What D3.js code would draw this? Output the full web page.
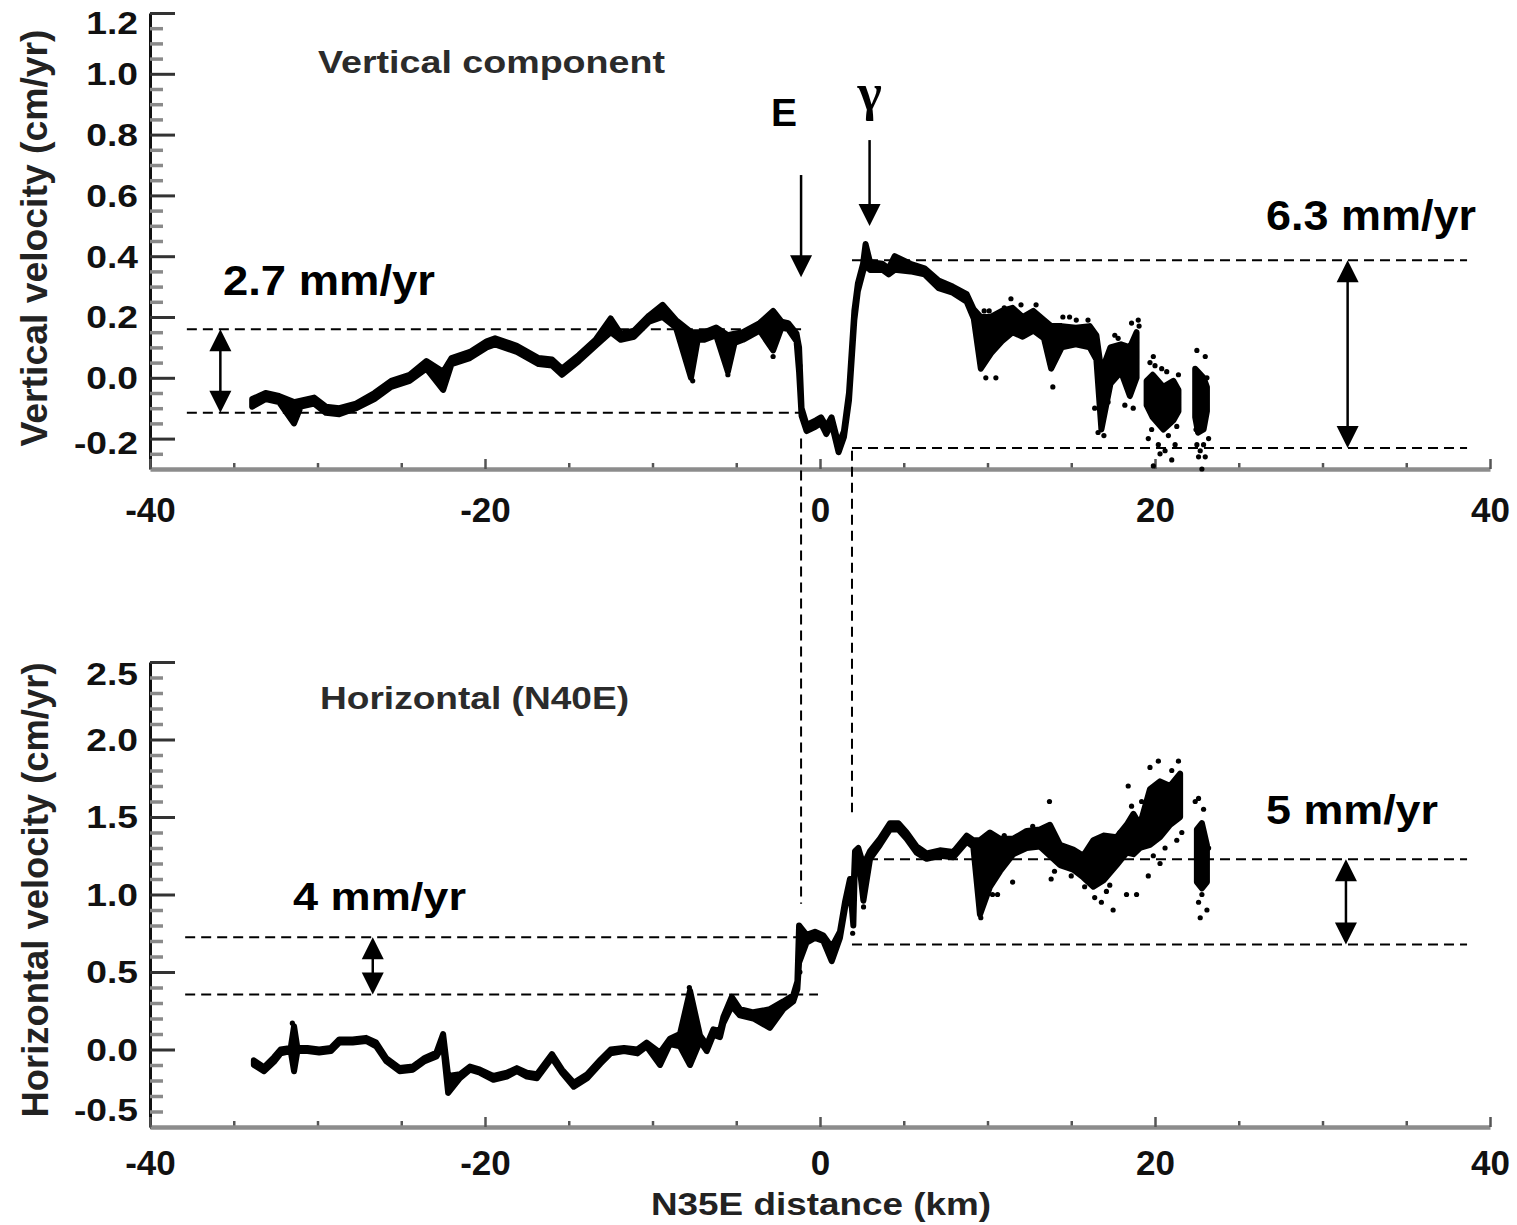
<!DOCTYPE html>
<html>
<head>
<meta charset="utf-8">
<script src="https://d3js.org/d3.v7.min.js"></script>
<style>
  body { margin: 0; background: #fff; }
  svg { display: block; font-family: "Liberation Sans", Arial, Helvetica, sans-serif; font-weight: bold; }
</style>
</head>
<body>
<div id="chart"></div>
<script>
// ---- values ----
const xTicks = [-40, -20, 0, 20, 40];
const vTicks = [-0.2, 0.0, 0.2, 0.4, 0.6, 0.8, 1.0, 1.2];
const hTicks = [-0.5, 0.0, 0.5, 1.0, 1.5, 2.0, 2.5];

// vertical component: distance (km), lower / upper edge of the plotted band (cm/yr); null = gap
const vKm = [-33.9,-33.1,-32.3,-31.4,-31.0,-30.2,-29.5,-28.7,-27.7,-26.6,-25.6,-24.5,-23.5,-22.5,-22.0,-20.9,-19.9,-19.4,-18.1,-16.8,-16.0,-15.4,-14.4,-13.4,-12.5,-11.9,-11.1,-10.2,-9.4,-8.6,-7.7,-7.3,-6.9,-6.2,-5.5,-5.1,-4.6,-3.6,-2.8,-2.3,-1.9,-1.4,-1.25,-1.1,-0.8,-0.25,0.06,0.38,0.69,1.11,1.43,1.73,2.05,2.26,2.57,2.72,2.99,3.73,4.1,4.46,5.4,6.24,7.08,7.92,8.76,9.18,9.6,10.2,10.86,11.5,12.1,12.74,13.37,13.8,14.43,15.27,16.1,16.5,16.8,17.34,17.97,18.5,18.9,19.2,19.5,19.86,20.5,21.1,21.4,21.8,22.4,22.57,22.9,23.1];
const vLo = [-0.095,-0.07,-0.08,-0.15,-0.095,-0.085,-0.115,-0.12,-0.1,-0.07,-0.03,-0.01,0.03,-0.04,0.045,0.065,0.1,0.11,0.085,0.045,0.04,0.01,0.055,0.105,0.15,0.125,0.135,0.185,0.2,0.165,0.0,0.125,0.125,0.14,0.02,0.115,0.125,0.155,0.09,0.165,0.16,0.12,0.02,-0.125,-0.175,-0.16,-0.15,-0.185,-0.15,-0.245,-0.195,-0.075,0.19,0.285,0.35,0.37,0.355,0.355,0.34,0.355,0.35,0.34,0.295,0.28,0.25,0.195,0.03,0.08,0.12,0.15,0.135,0.155,0.13,0.03,0.1,0.11,0.1,0.06,-0.17,-0.02,0.02,-0.06,0.0,null,-0.09,-0.13,-0.17,-0.14,-0.11,null,-0.13,-0.18,-0.17,-0.11];
const vHi = [-0.07,-0.05,-0.06,-0.08,-0.075,-0.065,-0.095,-0.1,-0.085,-0.05,-0.01,0.01,0.055,0.02,0.065,0.085,0.12,0.13,0.105,0.065,0.06,0.03,0.075,0.125,0.195,0.145,0.155,0.205,0.24,0.19,0.15,0.15,0.15,0.165,0.14,0.145,0.15,0.18,0.22,0.185,0.18,0.145,0.1,-0.1,-0.155,-0.14,-0.13,-0.16,-0.13,-0.22,-0.175,-0.05,0.22,0.31,0.375,0.44,0.38,0.375,0.36,0.4,0.375,0.36,0.32,0.3,0.275,0.225,0.2,0.2,0.22,0.23,0.2,0.22,0.19,0.17,0.17,0.165,0.17,0.14,0.02,0.1,0.11,0.1,0.15,null,-0.01,0.01,-0.03,-0.01,-0.04,null,0.03,0.02,0.0,-0.03];
// isolated points of the vertical profile
const vDotKm  = [9.9, 10.1, 11.4, 12.9, 13.9, 14.9, 16.0, 16.95, 17.8, 18.6, 19.0, 19.6, 19.9, 20.3, 20.7, 21.0, 22.5, 22.6, 22.8, 23.0, -7.6, -5.5, -2.8, 0.9, -1.2,
                 14.5, 15.3, 16.4, 16.6, 17.2, 17.6, 18.2, 18.7, 19.05, 19.7, 19.8, 20.0, 20.2, 20.4, 20.6, 20.8, 21.2, 21.3, 19.9, 22.45, 22.7, 22.9, 23.1, 23.2, 23.0, 10.5, 11.0, 12.0, 9.8, 21.4, 19.6, 22.5];
const vDotVal = [0.0, 0.22, 0.26, 0.24, -0.03, 0.2, 0.19, -0.19, 0.13, 0.18, 0.19, -0.2, 0.07, -0.25, 0.02, -0.27, 0.09, -0.26, -0.3, 0.07, -0.01, 0.01, 0.07, -0.19, 0.04,
                 0.2, 0.19, -0.1, -0.18, -0.08, 0.14, -0.09, -0.1, 0.17, 0.05, -0.17, 0.04, -0.22, 0.03, -0.24, -0.19, -0.22, -0.16, -0.29, -0.17, -0.24, -0.22, 0.0, -0.2, -0.26, 0.0, 0.23, 0.24, 0.22, 0.01, -0.05, -0.22];

// horizontal (N40E) component
const hKm = [-33.8,-33.2,-32.6,-32.2,-31.6,-31.4,-31.2,-30.6,-29.9,-29.2,-28.7,-27.9,-27.1,-26.5,-25.9,-25.1,-24.3,-23.6,-22.9,-22.5,-22.2,-21.5,-20.9,-20.3,-19.5,-18.7,-18.1,-17.5,-16.9,-16.0,-15.4,-14.7,-13.9,-13.1,-12.5,-11.7,-10.9,-10.35,-9.55,-8.96,-8.36,-7.76,-7.16,-6.76,-6.37,-5.97,-5.77,-5.27,-4.78,-3.98,-2.99,-2.19,-1.6,-1.35,-1.25,-0.8,-0.3,0.2,0.7,1.19,1.49,1.79,1.99,2.09,2.29,2.59,2.99,3.58,4.18,4.68,5.17,5.77,6.37,7.16,7.96,8.76,9.15,9.55,10.15,10.75,11.54,12.34,13.13,13.73,14.33,15.12,15.72,16.32,16.92,17.71,18.31,18.71,19.1,19.7,20.3,20.9,21.5,21.8,22.5,22.8,23.1];
const hLo = [-0.1,-0.14,-0.08,-0.025,-0.01,-0.14,-0.01,-0.01,-0.02,-0.01,0.045,0.045,0.055,0.02,-0.075,-0.14,-0.13,-0.075,-0.045,0.03,-0.28,-0.185,-0.13,-0.15,-0.195,-0.175,-0.14,-0.175,-0.185,-0.055,-0.15,-0.24,-0.185,-0.09,-0.025,-0.01,-0.025,0.02,-0.1,0.035,0.02,-0.1,0.055,-0.01,0.095,0.08,0.17,0.28,0.22,0.2,0.14,0.26,0.31,0.39,0.56,0.69,0.72,0.7,0.57,0.72,0.91,1.06,0.8,1.22,1.25,0.96,1.23,1.32,1.42,1.42,1.36,1.27,1.23,1.25,1.24,1.34,1.31,0.87,1.05,1.15,1.26,1.3,1.31,1.25,1.19,1.16,1.11,1.05,1.09,1.19,1.27,1.26,1.3,1.32,1.37,1.45,1.5,null,1.08,1.04,1.08];
const hHi = [-0.07,-0.115,-0.05,0.0,0.01,0.15,0.01,0.01,0.0,0.01,0.065,0.065,0.075,0.045,-0.055,-0.12,-0.11,-0.055,-0.02,0.1,-0.17,-0.16,-0.11,-0.13,-0.17,-0.15,-0.12,-0.15,-0.16,-0.03,-0.13,-0.215,-0.16,-0.065,0.0,0.01,0.0,0.045,-0.02,0.07,0.1,0.38,0.09,0.03,0.13,0.12,0.21,0.34,0.26,0.24,0.26,0.31,0.35,0.44,0.8,0.74,0.76,0.735,0.66,0.76,0.95,1.1,1.0,1.28,1.3,1.19,1.28,1.36,1.46,1.46,1.4,1.31,1.265,1.285,1.275,1.38,1.35,1.35,1.4,1.36,1.36,1.41,1.42,1.45,1.32,1.29,1.25,1.35,1.38,1.37,1.45,1.52,1.45,1.68,1.73,1.7,1.78,null,1.42,1.46,1.32];
const hDotKm  = [10.6, 11.5, 13.7, 13.8, 16.8, 17.1, 17.5, 18.4, 18.9, 19.7, 20.3, 21.4, 22.7, 22.6, 23.0, -3.3, -7.8, -31.5,
                 9.6, 10.3, 11.0, 12.7, 14.0, 15.0, 15.8, 16.4, 17.3, 17.9, 18.3, 18.6, 19.2, 19.6, 19.9, 20.2, 20.6, 21.0, 21.3, 21.6, 22.4, 22.6, 22.8, 22.9, 23.1, 23.2, 22.5, -1.2, 1.95, 2.6];
const hDotVal = [1.0, 1.08, 1.6, 1.1, 0.95, 1.02, 0.9, 1.7, 1.0, 1.82, 1.2, 1.86, 0.85, 1.62, 1.2, 0.2, 0.4, 0.17,
                 0.85, 1.0, 1.38, 1.44, 1.15, 1.12, 1.05, 0.98, 1.06, 1.4, 1.0, 1.57, 1.6, 1.12, 1.25, 1.86, 1.3, 1.8, 1.35, 1.4, 1.6, 0.95, 1.0, 1.55, 0.9, 1.3, 1.22, 0.5, 0.75, 0.92];

// offset levels marked on each side of the fault zone (cm/yr) and their labels
const vLevelsLeft = [0.16, -0.115], vLevelsRight = [0.387, -0.231];
const hLevelsLeft = [0.725, 0.355], hLevelsRight = [1.227, 0.678];
const vRateLabels = ['2.7 mm/yr', '6.3 mm/yr'];
const hRateLabels = ['4 mm/yr', '5 mm/yr'];

// ---- drawing ----
const W = 1517, H = 1225;
const svg = d3.select('#chart').append('svg').attr('width', W).attr('height', H);

const x = d3.scaleLinear().domain([-40, 40]).range([150, 1490]);
const yV = d3.scaleLinear().domain([-0.3, 1.2]).range([469, 13]);
const yH = d3.scaleLinear().domain([-0.5, 2.5]).range([1127, 662]);

const rows = (km, lo, hi) => km.map((k, i) => ({ km: k, lo: lo[i], hi: hi[i] }));
const isMajor = (ticks, v) => ticks.some(t => Math.abs(t - v) < 1e-6);

function drawAxes(y, ticks, minorStep, xLabelOffset, firstShift, lastShift) {
    const [d0, d1] = y.domain();
    const n = Math.round((d1 - d0) / minorStep);
    // every tick position (majors and minors) on one axis; minors get short grey lines
    const all = d3.range(0, n + 1).map(i => +(d0 + i * minorStep).toFixed(3))
        .filter((v, i) => i > 0 || isMajor(ticks, v));

    const ya = svg.append('g').attr('transform', `translate(${x(-40)},0)`)
        .call(d3.axisLeft(y).tickValues(all).tickSize(-25).tickSizeOuter(0)
            .tickPadding(10).tickFormat(d => isMajor(ticks, d) ? d.toFixed(1) : ''))
        .attr('font-size', null).attr('font-family', null);
    ya.select('.domain').attr('stroke', '#111').attr('stroke-width', 3);
    ya.selectAll('.tick line')
        .attr('x2', d => isMajor(ticks, d) ? 25 : 13)
        .attr('stroke', d => isMajor(ticks, d) ? '#333' : '#8a8a8a')
        .attr('stroke-width', d => isMajor(ticks, d) ? 3 : 3.5);
    ya.selectAll('.tick text')
        .style('font-size', '31px').attr('fill', '#111')
        .attr('transform', 'scale(1.2,1)')
        .attr('dy', d => {
            let s = 0.35 * 31;
            if (Math.abs(d - ticks[0]) < 1e-6) s += lastShift;
            if (Math.abs(d - ticks[ticks.length - 1]) < 1e-6) s += firstShift;
            return s;
        });

    // x axis (grey baseline, small upward ticks)
    const base = y.range()[0];
    const minorX = d3.range(-35, 40, 5).filter(v => v % 20 !== 0);
    svg.append('g').attr('transform', `translate(0,${base})`)
        .call(d3.axisBottom(x).tickValues(minorX).tickSize(-6).tickFormat(''))
        .call(a => a.select('.domain').remove())
        .call(a => a.selectAll('line').attr('stroke', '#555').attr('stroke-width', 2.5));
    const xa = svg.append('g').attr('transform', `translate(0,${base})`)
        .call(d3.axisBottom(x).tickValues(xTicks).tickSize(-10).tickSizeOuter(0).tickFormat(d => String(d)))
        .attr('font-size', null).attr('font-family', null);
    xa.select('.domain').attr('stroke', '#8c8c8c').attr('stroke-width', 4.5);
    xa.selectAll('line').attr('stroke', '#555').attr('stroke-width', 2.5);
    xa.selectAll('text').style('font-size', '35px').attr('fill', '#111')
        .attr('y', xLabelOffset).attr('dy', '0.36em');
}

function drawProfile(y, data, dotKm, dotVal) {
    const area = d3.area()
        .defined(d => d.lo !== null)
        .x(d => x(d.km)).y0(d => y(d.lo)).y1(d => y(d.hi));
    svg.append('path').datum(data).attr('d', area)
        .attr('fill', '#000').attr('stroke', '#000').attr('stroke-width', 6)
        .attr('stroke-linejoin', 'round');
    svg.append('g').selectAll('circle').data(dotKm).join('circle')
        .attr('cx', d => x(d)).attr('cy', (d, i) => y(dotVal[i])).attr('r', 2.6).attr('fill', '#000');
}

function dashed(x1, y1, x2, y2) {
    svg.append('line').attr('x1', x1).attr('y1', y1).attr('x2', x2).attr('y2', y2)
        .attr('stroke', '#000').attr('stroke-width', 2).attr('stroke-dasharray', '10,6');
}

function head(px, tipY, dir) {
    // dir 1 = pointing down, -1 = pointing up
    const w = 11, h = 22;
    svg.append('path')
        .attr('d', `M${px},${tipY} L${px - w},${tipY - dir * h} L${px + w},${tipY - dir * h} Z`)
        .attr('fill', '#000');
}

function doubleArrow(px, yTop, yBot) {
    svg.append('line').attr('x1', px).attr('x2', px).attr('y1', yTop + 10).attr('y2', yBot - 10)
        .attr('stroke', '#000').attr('stroke-width', 2.5);
    head(px, yTop, -1);
    head(px, yBot, 1);
}

function label(txt, tx, ty, size, len, opts = {}) {
    const t = svg.append('text').attr('x', tx).attr('y', ty).text(txt)
        .style('font-size', size + 'px').attr('fill', opts.fill || '#000')
        .attr('text-anchor', opts.anchor || 'start');
    if (len) t.attr('textLength', len).attr('lengthAdjust', 'spacingAndGlyphs');
    if (opts.rotate) t.attr('transform', `rotate(-90,${tx},${ty})`);
    if (opts.family) t.style('font-family', opts.family);
    return t;
}

// axes
drawAxes(yV, vTicks, 0.05, 40, 10, 4);
drawAxes(yH, hTicks, 0.1, 35, 12, -17);

// profiles
drawProfile(yV, rows(vKm, vLo, vHi), vDotKm, vDotVal);
drawProfile(yH, rows(hKm, hLo, hHi), hDotKm, hDotVal);

// offset levels (top panel)
const xL0 = x(-37.8), xE = x(-1.13), xG = x(1.91), xR1 = x(38.63);
dashed(xL0, yV(vLevelsLeft[0]), xE, yV(vLevelsLeft[0]));
dashed(xL0, yV(vLevelsLeft[1]), xE, yV(vLevelsLeft[1]));
dashed(xG, yV(vLevelsRight[0]), xR1, yV(vLevelsRight[0]));
dashed(xG, yV(vLevelsRight[1]), xR1, yV(vLevelsRight[1]));
doubleArrow(x(-35.8), yV(vLevelsLeft[0]), yV(vLevelsLeft[1]));
doubleArrow(x(31.5), yV(vLevelsRight[0]), yV(vLevelsRight[1]));

// offset levels (bottom panel)
const xLB = x(-37.9);
dashed(xLB, yH(hLevelsLeft[0]), x(-1.25), yH(hLevelsLeft[0]));
dashed(xLB, yH(hLevelsLeft[1]), x(-0.12), yH(hLevelsLeft[1]));
dashed(xG, yH(hLevelsRight[0]), xR1, yH(hLevelsRight[0]));
dashed(xG, yH(hLevelsRight[1]), xR1, yH(hLevelsRight[1]));
doubleArrow(x(-26.7), yH(hLevelsLeft[0]), yH(hLevelsLeft[1]));
doubleArrow(x(31.4), yH(hLevelsRight[0]), yH(hLevelsRight[1]));

// fault traces joining the two panels
dashed(xE, yV(-0.2), xE, yH(0.94));
dashed(xG, yV(-0.24), xG, yH(1.53));

// E and gamma arrows
svg.append('line').attr('x1', xE).attr('x2', xE).attr('y1', yV(0.667)).attr('y2', yV(0.35))
    .attr('stroke', '#000').attr('stroke-width', 2.5);
head(xE, yV(0.331), 1);
const xGa = x(2.96);
svg.append('line').attr('x1', xGa).attr('x2', xGa).attr('y1', yV(0.782)).attr('y2', yV(0.52))
    .attr('stroke', '#000').attr('stroke-width', 2.5);
head(xGa, yV(0.499), 1);
label('E', x(-2.15), 126, 39, null, { anchor: 'middle' });
label('\u03B3', xGa, 110, 52, null, { anchor: 'middle', family: '"Liberation Serif", "DejaVu Serif", serif' });

// rate labels
label(vRateLabels[0], 223, 295, 42, 212);
label(vRateLabels[1], 1266, 230, 42, 210);
label(hRateLabels[0], 293, 910, 39, 173);
label(hRateLabels[1], 1266, 824, 40, 172);

// panel titles
label('Vertical component', 318, 73, 32, 347, { fill: '#2b2b2b' });
label('Horizontal (N40E)', 320, 709, 32, 309, { fill: '#2b2b2b' });

// axis titles
label('Vertical velocity (cm/yr)', 47, 238, 37, 417, { anchor: 'middle', rotate: true, fill: '#222' });
label('Horizontal velocity (cm/yr)', 48, 890, 37, 455, { anchor: 'middle', rotate: true, fill: '#222' });
label('N35E distance (km)', 821, 1215, 32, 340, { anchor: 'middle', fill: '#222' });
</script>
</body>
</html>
